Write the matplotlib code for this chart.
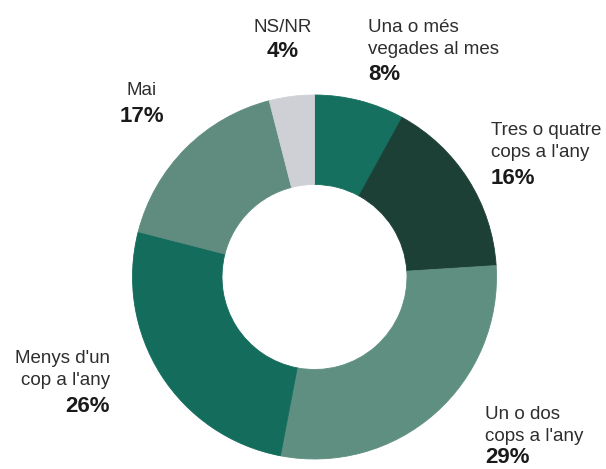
import matplotlib.pyplot as plt

# Data
categories = ["Una o més\nvegades al mes", "Tres o quatre\ncops a l'any", "Un o dos\ncops a l'any",
              "Menys d'un\ncop a l'any", "Mai", "NS/NR"]
values = [8, 16, 29, 26, 17, 4]
colors = ["#15705f", "#1d4036", "#5e8f81", "#136c5c", "#5f8c7e", "#cfd0d5"]

# Label anchors in pixel coords from top-left: (x, first baseline, ha, gap to percent)
W, H = 606, 469
anchors = [(368, 32, "left", 26), (491, 135, "left", 27), (485, 419, "left", 22),
           (110, 363, "right", 27), (142, 95, "center", 27), (283, 32, "center", 25)]

plt.rcParams["font.family"] = ["Liberation Sans", "DejaVu Sans"]

fig = plt.figure(figsize=(W / 100, H / 100), dpi=100)
ax = fig.add_axes([0, 0, 1, 1])

wedges, _ = ax.pie(values, colors=colors, startangle=90, counterclock=False,
                   center=(314.5, H - 277), radius=182,
                   wedgeprops=dict(width=89.5, linewidth=0.6))
for w, c in zip(wedges, colors):
    w.set_edgecolor(c)

ax.set_xlim(0, W)
ax.set_ylim(0, H)
ax.set_aspect("equal")
ax.axis("off")

line_gap = 22
for label, val, (x, y0, ha, pgap) in zip(categories, values, anchors):
    lines = label.split("\n")
    for i, line in enumerate(lines):
        ax.text(x, H - (y0 + i * line_gap), line, ha=ha, va="baseline",
                fontsize=13.5, color="#2e2e2e")
    y_pct = y0 + (len(lines) - 1) * line_gap + pgap
    ax.text(x, H - y_pct, f"{val}%", ha=ha, va="baseline",
            fontsize=16, fontweight="bold", color="#1a1a1a")

fig.savefig("out.png", dpi=100)
plt.close(fig)
